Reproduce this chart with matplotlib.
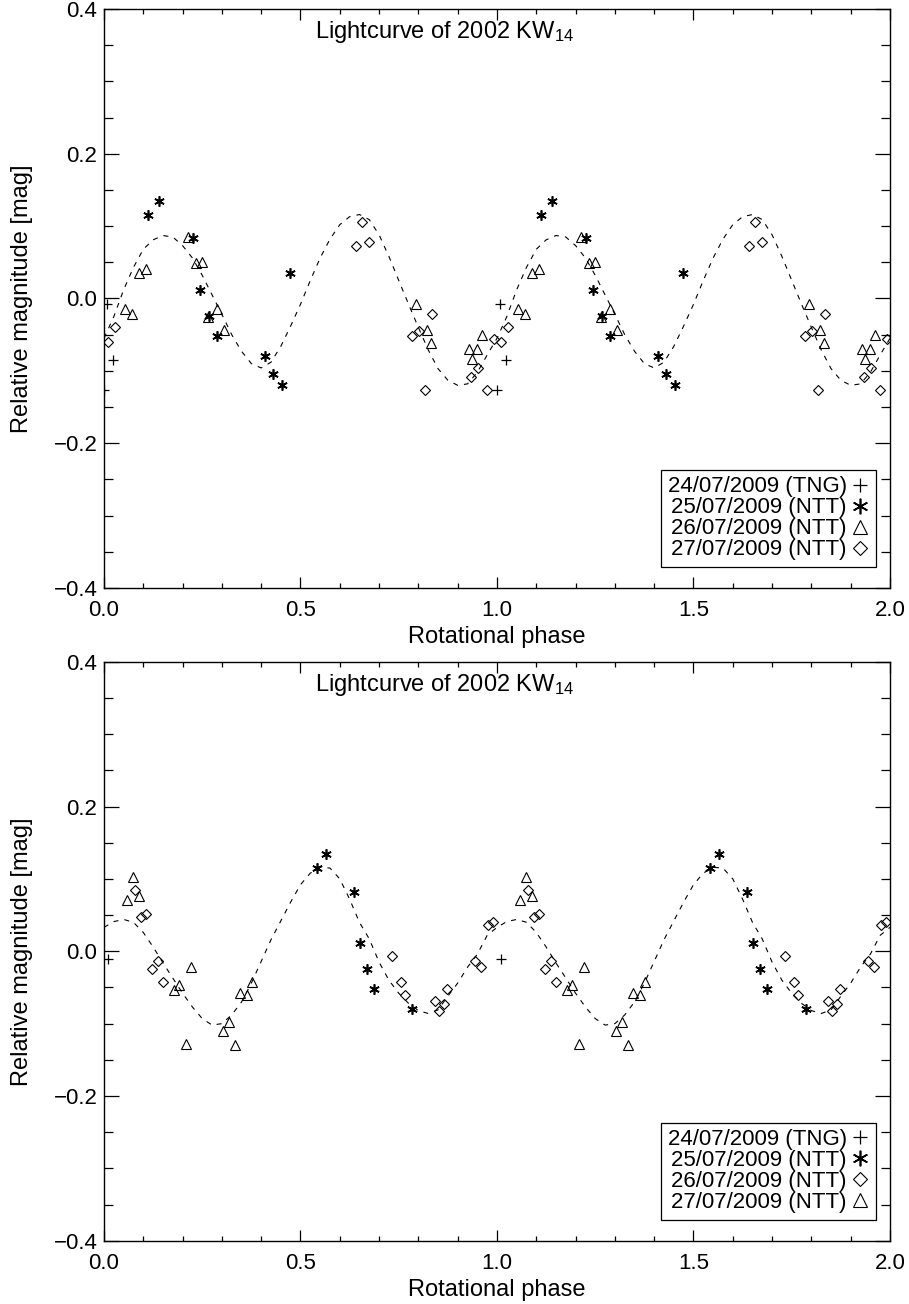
import numpy as np
import matplotlib
matplotlib.use("Agg")
import matplotlib.pyplot as plt
from matplotlib.ticker import MultipleLocator, FuncFormatter

plt.rcParams['font.family'] = ['Liberation Sans', 'DejaVu Sans']
plt.rcParams['mathtext.fontset'] = 'custom'
plt.rcParams['mathtext.rm'] = 'Liberation Sans'
plt.rcParams['mathtext.default'] = 'regular'

# ---- data: phases in [0,1), the plot repeats them over a second cycle ----
labels = ["24/07/2009 (TNG)", "25/07/2009 (NTT)", "26/07/2009 (NTT)", "27/07/2009 (NTT)"]

# top panel
top_tng_ph = [0.000, 0.008, 0.023]
top_tng_mag = [-0.126, -0.008, -0.085]
top_n25_ph = [0.111, 0.141, 0.226, 0.245, 0.267, 0.288, 0.410, 0.430, 0.453, 0.473]
top_n25_mag = [0.116, 0.135, 0.083, 0.012, -0.024, -0.052, -0.079, -0.104, -0.120, 0.035]
top_n26_ph = [0.053, 0.071, 0.090, 0.107, 0.215, 0.233, 0.250, 0.265, 0.287, 0.305,
              0.794, 0.821, 0.832, 0.929, 0.937, 0.948, 0.963]
top_n26_mag = [-0.015, -0.021, 0.035, 0.041, 0.085, 0.049, 0.051, -0.025, -0.014, -0.043,
               -0.007, -0.043, -0.061, -0.070, -0.084, -0.070, -0.051]
top_n27_ph = [0.010, 0.028, 0.640, 0.657, 0.674, 0.784, 0.801, 0.818, 0.835,
              0.934, 0.952, 0.974, 0.992]
top_n27_mag = [-0.060, -0.040, 0.072, 0.105, 0.078, -0.052, -0.045, -0.127, -0.021,
               -0.108, -0.096, -0.127, -0.056]
top_fit_ph = [0.000, 0.025, 0.050, 0.075, 0.100, 0.125, 0.150, 0.175, 0.200, 0.225,
              0.250, 0.275, 0.300, 0.325, 0.350, 0.375, 0.400, 0.425, 0.450, 0.475,
              0.500, 0.525, 0.550, 0.575, 0.600, 0.625, 0.650, 0.675, 0.700, 0.725,
              0.750, 0.775, 0.800, 0.825, 0.850, 0.875, 0.900, 0.925, 0.950, 0.975]
top_fit_mag = [-0.055, -0.025, 0.012, 0.043, 0.068, 0.081, 0.087, 0.085, 0.073, 0.056,
               0.032, 0.005, -0.022, -0.050, -0.073, -0.090, -0.096, -0.088, -0.066, -0.038,
               -0.008, 0.025, 0.056, 0.082, 0.102, 0.113, 0.116, 0.109, 0.088, 0.058,
               0.025, -0.008, -0.040, -0.071, -0.097, -0.113, -0.120, -0.118, -0.102, -0.078]

# bottom panel
bot_tng_ph = [0.010]
bot_tng_mag = [-0.010]
bot_n25_ph = [0.543, 0.566, 0.636, 0.652, 0.669, 0.687, 0.785]
bot_n25_mag = [0.115, 0.135, 0.082, 0.012, -0.025, -0.052, -0.080]
bot_n26_ph = [0.079, 0.093, 0.108, 0.123, 0.137, 0.151, 0.733, 0.755, 0.765,
              0.842, 0.853, 0.864, 0.872, 0.945, 0.960, 0.978, 0.989]
bot_n26_mag = [0.085, 0.047, 0.051, -0.025, -0.014, -0.043, -0.006, -0.042, -0.060,
               -0.069, -0.083, -0.073, -0.052, -0.013, -0.022, 0.036, 0.040]
bot_n27_ph = [0.059, 0.075, 0.089, 0.178, 0.192, 0.208, 0.221, 0.304, 0.317,
              0.333, 0.346, 0.363, 0.377]
bot_n27_mag = [0.071, 0.103, 0.076, -0.053, -0.047, -0.128, -0.022, -0.110, -0.098,
               -0.130, -0.057, -0.061, -0.043]
bot_fit_ph = top_fit_ph
bot_fit_mag = [0.033, 0.041, 0.044, 0.040, 0.026, 0.006, -0.016, -0.037, -0.058, -0.077,
               -0.093, -0.102, -0.100, -0.088, -0.070, -0.044, -0.014, 0.016, 0.042, 0.068,
               0.092, 0.108, 0.116, 0.115, 0.100, 0.072, 0.040, 0.017, -0.015, -0.040,
               -0.058, -0.072, -0.082, -0.086, -0.081, -0.062, -0.044, -0.022, -0.004, 0.022]

x_ticks = [0.0, 0.5, 1.0, 1.5, 2.0]

STAR = (6, 2, 0)
styles = {
    '+': dict(marker='+', ms=7, mew=0.9),
    '*': dict(marker=STAR, ms=7.5, mew=1.2),
    '^': dict(marker='^', ms=7, mew=0.8, mfc='none'),
    'D': dict(marker='D', ms=4.6, mew=0.8, mfc='none'),
}


def two_cycles(ph, mag):
    ph = np.asarray(ph)
    mag = np.asarray(mag)
    return np.concatenate([ph, ph + 1]), np.concatenate([mag, mag])


def fmt(v, pos):
    return f"{v:.1f}".replace("-", "\u2212")


def draw_panel(ax, series, fit_ph, fit_mag, tick_pad):
    fx, fy = two_cycles(list(fit_ph) + [1.0], list(fit_mag) + [fit_mag[0]])
    ax.plot(fx, fy, color='black', lw=0.8, dashes=(4.5, 5.5))
    for lab, ph, mag, m in series:
        x, y = two_cycles(ph, mag)
        ax.plot(x, y, ls='none', color='black', label=lab, **styles[m])

    ax.set_xlim(0, 2)
    ax.set_ylim(-0.4, 0.4)
    ax.set_xticks(x_ticks)
    ax.xaxis.set_minor_locator(MultipleLocator(0.1))
    ax.yaxis.set_major_locator(MultipleLocator(0.2))
    ax.yaxis.set_minor_locator(MultipleLocator(0.05))
    ax.xaxis.set_major_formatter(FuncFormatter(fmt))
    ax.yaxis.set_major_formatter(FuncFormatter(fmt))
    ax.tick_params(which='both', direction='in', top=True, right=True, width=0.9,
                   labelsize=16)
    ax.tick_params(axis='y', which='major', length=10.8, pad=4.8)
    ax.tick_params(axis='y', which='minor', length=6.2)
    ax.tick_params(axis='x', which='major', length=7.6, pad=tick_pad)
    ax.tick_params(axis='x', which='minor', length=3.7)
    for s in ax.spines.values():
        s.set_linewidth(1.0)

    ax.set_xlabel("Rotational phase", fontsize=17)
    ax.set_ylabel("Relative magnitude [mag]", fontsize=17)
    ax.xaxis.set_label_coords(0.5, -0.066)
    ax.yaxis.set_label_coords(-0.09, 0.5)

    ax.text(0.268, 0.950, "Lightcurve of 2002 KW$_{14}$", transform=ax.transAxes,
            ha='left', va='baseline', fontsize=17)

    leg = ax.legend(loc='lower right', bbox_to_anchor=(0.982, 0.036), borderaxespad=0,
                    markerfirst=False, fontsize=16, markerscale=1.5, handlelength=0.8,
                    handletextpad=0.2, labelspacing=0.0, borderpad=0.3,
                    fancybox=False, edgecolor='black', framealpha=1)
    leg.get_frame().set_linewidth(0.9)


fig = plt.figure(figsize=(9.09, 13.04), dpi=100)
ax1 = fig.add_axes([0.1144, 0.5491, 0.8647, 0.4440])
ax2 = fig.add_axes([0.1144, 0.0485, 0.8647, 0.4440])

draw_panel(ax1, [
    (labels[0], top_tng_ph, top_tng_mag, '+'),
    (labels[1], top_n25_ph, top_n25_mag, '*'),
    (labels[2], top_n26_ph, top_n26_mag, '^'),
    (labels[3], top_n27_ph, top_n27_mag, 'D'),
], top_fit_ph, top_fit_mag, 9)

draw_panel(ax2, [
    (labels[0], bot_tng_ph, bot_tng_mag, '+'),
    (labels[1], bot_n25_ph, bot_n25_mag, '*'),
    (labels[2], bot_n26_ph, bot_n26_mag, 'D'),
    (labels[3], bot_n27_ph, bot_n27_mag, '^'),
], bot_fit_ph, bot_fit_mag, 8.5)

fig.savefig("out.png", dpi=100)
